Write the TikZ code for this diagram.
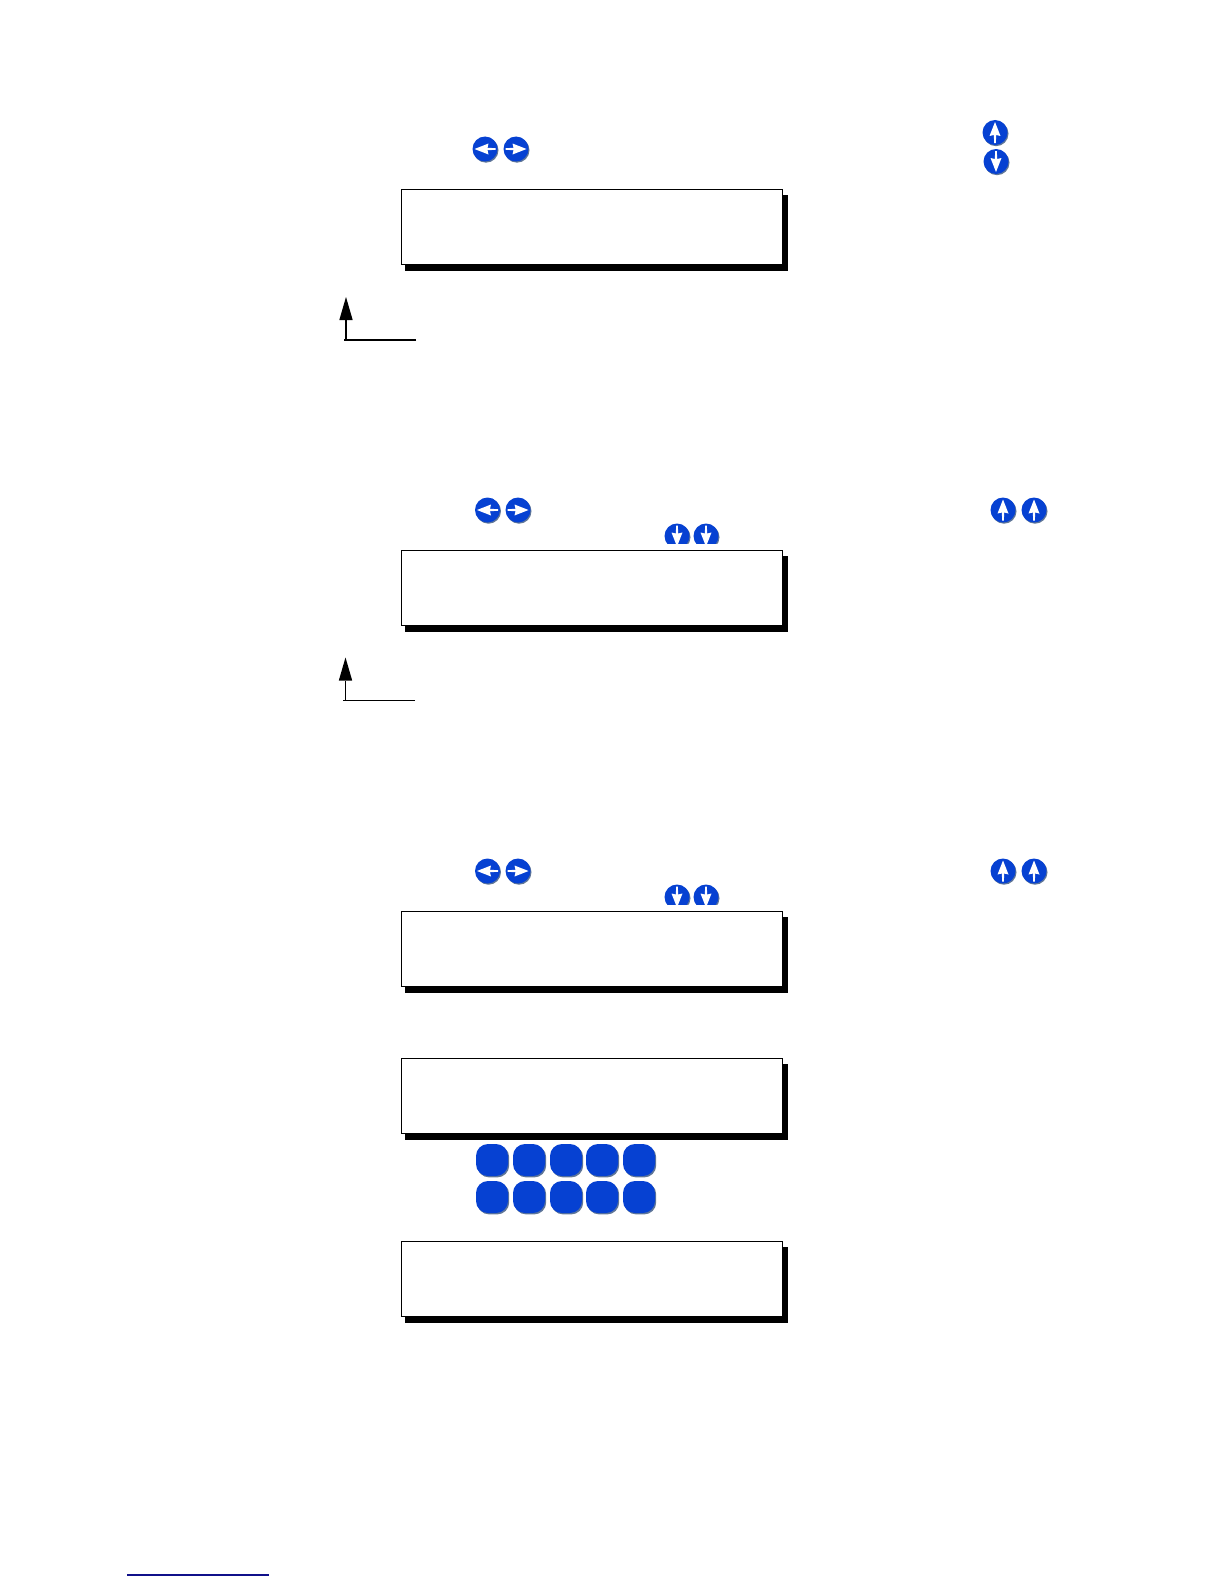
\documentclass[tikz,border=0pt]{standalone}
\usetikzlibrary{shadows}
\definecolor{btnblue}{HTML}{0641D2}
\definecolor{btnshade}{HTML}{5F7698}
\definecolor{linkblue}{HTML}{10108A}
\tikzset{
  x=1pt,y=-1pt,
  lcd/.style={draw=black,line width=1.1pt,fill=white,minimum width=381pt,minimum height=75pt,inner sep=0pt,outer sep=0pt,
    general shadow={fill=black,draw=black,line width=1.1pt,shadow xshift=4.5pt,shadow yshift=-6pt}},
  keybtn/.style={fill=btnblue,rounded corners=12pt,minimum width=32pt,minimum height=32pt,inner sep=0pt,
    general shadow={fill=btnshade,shadow xshift=1.2pt,shadow yshift=-1.4pt}},
  roundbtn/.style={circle,fill=btnblue,minimum size=25pt,inner sep=0pt,
    general shadow={fill=btnshade,shadow xshift=1pt,shadow yshift=-1.2pt}},
  feed/.style={line width=1.2pt,black},
  headtip/.style={fill=black}
}
% button at (#2,#3), name #1, arrow rotated by #4 (0 = pointing left)
\newcommand{\arrowbtn}[4]{%
  \node[roundbtn] (#1) at (#2,#3) {};
  \begin{scope}[shift={(#1.center)},rotate=#4]
    \fill[white] (-10.5,0) -- (3.5,-5.5) -- (2.5,-1.2) -- (10.5,-.8) -- (10.5,.8) -- (2.5,1.2) -- (3.5,5.5) -- cycle;
  \end{scope}}
\begin{document}
\begin{tikzpicture}
\useasboundingbox (0,0) rectangle (1224,1584);
% displays
\node[lcd] (d1) at (592,227) {};
\node[lcd] (d2) at (592,588) {};
\node[lcd] (d3) at (592,949) {};
\node[lcd] (d4) at (592,1096) {};
\node[lcd] (d5) at (592,1279) {};
% top row buttons
\arrowbtn{a1}{485}{149}{0}
\arrowbtn{a2}{516}{149}{180}
\arrowbtn{a3}{995}{132.5}{-90}
\arrowbtn{a4}{996}{161.5}{90}
% second group
\arrowbtn{b1}{487.5}{510}{0}
\arrowbtn{b2}{518}{510}{180}
\arrowbtn{b3}{1003}{510}{-90}
\arrowbtn{b4}{1034}{510}{-90}
\begin{scope}
\clip (640,515) rectangle (740,543.5);
\arrowbtn{b5}{677}{536}{90}
\arrowbtn{b6}{706}{536}{90}
\end{scope}
% third group
\arrowbtn{c1}{487.5}{871}{0}
\arrowbtn{c2}{518}{871}{180}
\arrowbtn{c3}{1003}{871}{-90}
\arrowbtn{c4}{1034}{871}{-90}
\begin{scope}
\clip (640,875) rectangle (740,904.5);
\arrowbtn{c5}{677}{897}{90}
\arrowbtn{c6}{706}{897}{90}
\end{scope}
% keypad
\node[keybtn] (k1) at (492,1160) {};
\node[keybtn] (k2) at (529,1160) {};
\node[keybtn] (k3) at (566,1160) {};
\node[keybtn] (k4) at (602,1160) {};
\node[keybtn] (k5) at (639,1160) {};
\node[keybtn] (k6) at (492,1197) {};
\node[keybtn] (k7) at (529,1197) {};
\node[keybtn] (k8) at (566,1197) {};
\node[keybtn] (k9) at (602,1197) {};
\node[keybtn] (k10) at (639,1197) {};
% return arrows
\coordinate (r1a) at (416,340);
\coordinate (r1b) at (344,340);
\coordinate (r1c) at (346,340);
\coordinate (r1t) at (346,297);
\draw[feed] (r1a) -- (r1b);
\draw[feed] (r1c) -- (346,320);
\fill[headtip] (r1t) -- (352.7,320) -- (339.3,320) -- cycle;
\coordinate (r2a) at (415,700.5);
\coordinate (r2b) at (343,700.5);
\coordinate (r2c) at (345.5,700.5);
\coordinate (r2t) at (345.5,657.5);
\draw[feed] (r2a) -- (r2b);
\draw[feed] (r2c) -- (345.5,680.5);
\fill[headtip] (r2t) -- (352.2,680.5) -- (338.8,680.5) -- cycle;
% footer rule
\coordinate (f1) at (127,1575);
\coordinate (f2) at (269,1575);
\draw[linkblue,line width=1.1pt] (f1) -- (f2);
\end{tikzpicture}
\end{document}
